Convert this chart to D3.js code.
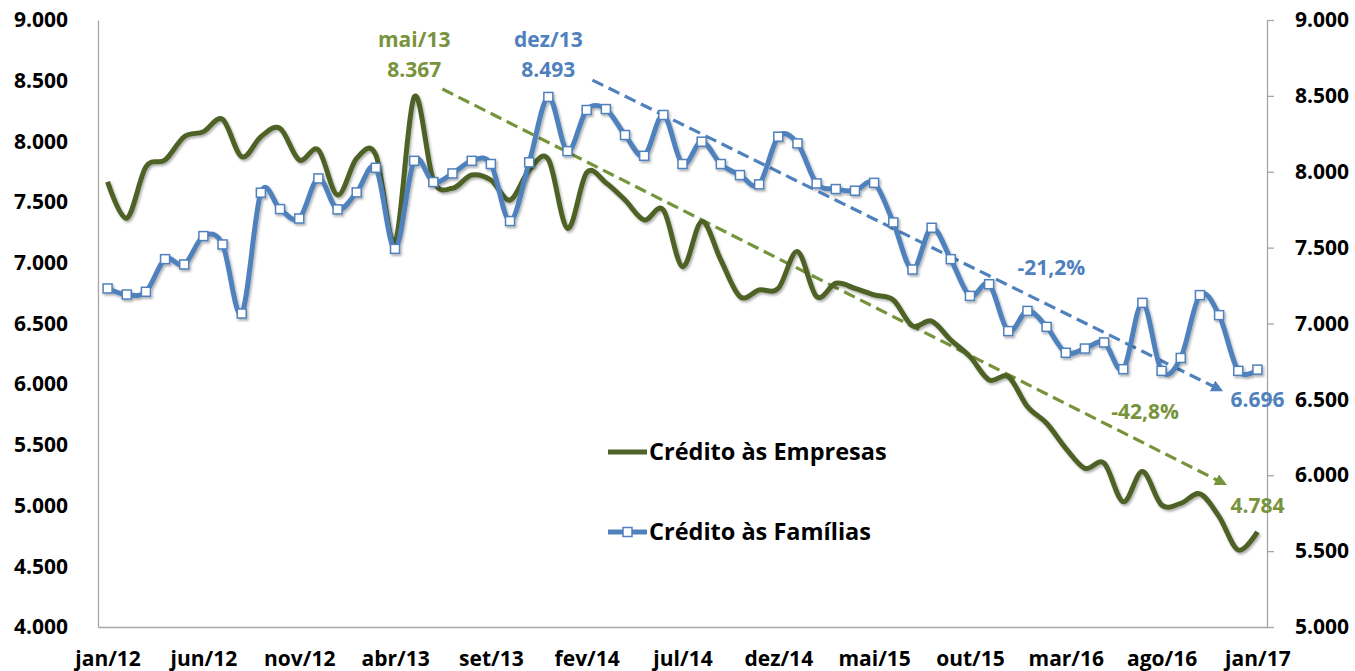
<!DOCTYPE html>
<html>
<head>
<meta charset="utf-8">
<script src="https://cdn.jsdelivr.net/npm/d3@7"></script>
<style>
body{margin:0;background:#fff;}
svg{display:block;font-family:"Open Sans",sans-serif;font-weight:700;}
</style>
</head>
<body>
<script>
// categorias (meses jan/12 .. jan/17)
var meses = ["jan/12","fev/12","mar/12","abr/12","mai/12","jun/12","jul/12","ago/12","set/12","out/12","nov/12","dez/12",
	"jan/13","fev/13","mar/13","abr/13","mai/13","jun/13","jul/13","ago/13","set/13","out/13","nov/13","dez/13",
	"jan/14","fev/14","mar/14","abr/14","mai/14","jun/14","jul/14","ago/14","set/14","out/14","nov/14","dez/14",
	"jan/15","fev/15","mar/15","abr/15","mai/15","jun/15","jul/15","ago/15","set/15","out/15","nov/15","dez/15",
	"jan/16","fev/16","mar/16","abr/16","mai/16","jun/16","jul/16","ago/16","set/16","out/16","nov/16","dez/16",
	"jan/17"];

// Crédito às Empresas (eixo esquerdo)
var empresas = [7668,7367,7790,7847,8039,8080,8182,7874,8039,8108,7847,7929,
	7559,7861,7888,7170,8367,7682,7614,7723,7682,7517,7764,7852,
	7284,7742,7660,7517,7353,7435,6968,7339,7023,6721,6776,6790,
	7092,6721,6831,6790,6735,6694,6480,6520,6364,6227,6035,6062,
	5815,5678,5472,5307,5349,5032,5280,5005,5019,5096,4909,4634,
	4784];

// Crédito às Famílias (eixo direito)
var familias = [7231,7191,7209,7424,7389,7576,7521,7066,7862,7754,7692,7956,
	7752,7864,8026,7492,8072,7932,7989,8072,8051,7675,8062,8493,
	8136,8407,8413,8242,8105,8374,8051,8198,8051,7978,7917,8231,
	8187,7923,7886,7875,7927,7666,7356,7631,7424,7182,7259,6950,
	7083,6978,6807,6835,6875,6699,7136,6688,6773,7187,7055,6688,
	6696];

var ticksEsq = [4000,4500,5000,5500,6000,6500,7000,7500,8000,8500,9000];
var ticksDir = [5000,5500,6000,6500,7000,7500,8000,8500,9000];

// tendências: [indice do mês, valor] inicio e fim
var tendEmpresas = [[17.47,8432],[58.3,5178]];
var tendFamilias = [[25.3,8604],[58.1,6561]];

var nomes = ["Crédito às Empresas","Crédito às Famílias"];

var W = 1355, H = 671;
var esq = 98, dir = 1267, topo = 20, base = 627;
var verde = "#4F6228", verdeClaro = "#77933C", azul = "#4F81BD";

var br = d3.formatLocale({decimal:",",thousands:".",grouping:[3],currency:["",""]});
var fmt = br.format(",d");

var svg = d3.select("body").append("svg")
	.attr("width",W)
	.attr("height",H);

var defs = svg.append("defs");
defs.append("filter").attr("id","sombra")
	.attr("x","-10%").attr("y","-10%").attr("width","120%").attr("height","120%")
	.append("feDropShadow")
	.attr("dx",1.5).attr("dy",2).attr("stdDeviation",1.3)
	.attr("flood-color","#000").attr("flood-opacity",0.3);

[["setaVerde",verdeClaro],["setaAzul",azul]].forEach(function(s){
	defs.append("marker").attr("id",s[0])
		.attr("viewBox","0 0 10 10").attr("refX",8).attr("refY",5)
		.attr("markerWidth",12).attr("markerHeight",12)
		.attr("markerUnits","userSpaceOnUse")
		.attr("orient","auto")
		.append("path").attr("d","M0,0L10,5L0,10z").attr("fill",s[1]);
});

var x = d3.scalePoint().domain(meses).range([esq,dir]).padding(0.5);
var xi = d3.scaleLinear().domain([0,meses.length-1]).range([x(meses[0]),x(meses[meses.length-1])]);
var yE = d3.scaleLinear().domain([4000,9000]).range([base,topo]);
var yF = d3.scaleLinear().domain([5000,9000]).range([base,topo]);

// eixos
var gx = svg.append("g").attr("transform","translate(0,"+base+")")
	.call(d3.axisBottom(x)
		.tickValues(meses.filter(function(d,i){return i%5==0;}))
		.tickSize(0).tickSizeOuter(0).tickPadding(24));
var gl = svg.append("g").attr("transform","translate("+esq+",0)")
	.call(d3.axisLeft(yE).tickValues(ticksEsq).tickFormat(fmt)
		.tickSize(0).tickSizeOuter(0).tickPadding(30));
var gr = svg.append("g").attr("transform","translate("+dir+",0)")
	.call(d3.axisRight(yF).tickValues(ticksDir).tickFormat(fmt)
		.tickSize(7).tickSizeOuter(0).tickPadding(21));

[gx,gl,gr].forEach(function(g){
	g.selectAll("path.domain").attr("stroke","#A6A6A6").attr("stroke-width",1.3);
	g.selectAll(".tick line").attr("stroke","#A6A6A6").attr("stroke-width",1.3);
	g.selectAll("text").attr("fill","#000").attr("font-size",21)
		.attr("font-family","'Open Sans',sans-serif").attr("font-weight",700);
});

// linhas de tendência
var tendencia = function(pts, yS, cor, seta){
	svg.append("line")
		.attr("x1",xi(pts[0][0])).attr("y1",yS(pts[0][1]))
		.attr("x2",xi(pts[1][0])).attr("y2",yS(pts[1][1]))
		.attr("stroke",cor).attr("stroke-width",3.2)
		.attr("stroke-dasharray","12,6")
		.attr("marker-end","url(#"+seta+")");
};
tendencia(tendEmpresas, yE, verdeClaro, "setaVerde");
tendencia(tendFamilias, yF, azul, "setaAzul");

// séries
var curva = d3.curveCardinal.tension(0);
var linhaE = d3.line().x(function(d,i){return xi(i);}).y(function(d){return yE(d);}).curve(curva);
var linhaF = d3.line().x(function(d,i){return xi(i);}).y(function(d){return yF(d);}).curve(curva);

svg.append("path").datum(empresas)
	.attr("d",linhaE).attr("fill","none")
	.attr("stroke",verde).attr("stroke-width",5)
	.attr("stroke-linejoin","round")
	.attr("filter","url(#sombra)");

var gF = svg.append("g").attr("filter","url(#sombra)");
gF.append("path").datum(familias)
	.attr("d",linhaF).attr("fill","none")
	.attr("stroke",azul).attr("stroke-width",5)
	.attr("stroke-linejoin","round");
gF.selectAll("rect.marca").data(familias).enter().append("rect")
	.attr("class","marca")
	.attr("x",function(d,i){return xi(i)-4.5;})
	.attr("y",function(d){return yF(d)-4.5;})
	.attr("width",9).attr("height",9)
	.attr("fill","#fff").attr("stroke",azul).attr("stroke-width",1.5);

// rótulos
var rotulo = function(txt, px, py, cor, anchor){
	svg.append("text").text(txt)
		.attr("x",px).attr("y",py).attr("dy","0.35em")
		.attr("text-anchor",anchor || "middle")
		.attr("fill",cor).attr("font-size",21);
};
var iE = empresas.indexOf(d3.max(empresas.slice(0,30)));
var iF = familias.indexOf(d3.max(familias));
var iU = meses.length-1;
rotulo(meses[iE], xi(iE), yE(empresas[iE])-57, verdeClaro);
rotulo(fmt(empresas[iE]), xi(iE), yE(empresas[iE])-27, verdeClaro);
rotulo(meses[iF], xi(iF), yF(familias[iF])-57, azul);
rotulo(fmt(familias[iF]), xi(iF), yF(familias[iF])-27, azul);
rotulo(fmt(familias[iU]), xi(iU), yF(familias[iU])+30, azul);
rotulo(fmt(empresas[iU]), xi(iU), yE(empresas[iU])-26, verdeClaro);
rotulo("-21,2%", xi(tendFamilias[0][0]+(tendFamilias[1][0]-tendFamilias[0][0])*0.73), yF(tendFamilias[0][1]+(tendFamilias[1][1]-tendFamilias[0][1])*0.73)-39, azul);
rotulo("-42,8%", xi(tendEmpresas[0][0]+(tendEmpresas[1][0]-tendEmpresas[0][0])*0.898), yE(tendEmpresas[0][1]+(tendEmpresas[1][1]-tendEmpresas[0][1])*0.898)-32, verdeClaro);

// legenda
var leg = svg.append("g").attr("transform","translate(608,452)");
var item = leg.selectAll("g").data(nomes).enter().append("g")
	.attr("transform",function(d,i){return "translate(0,"+(i*80)+")";});
item.append("line").attr("x1",0).attr("x2",39).attr("y1",0).attr("y2",0)
	.attr("stroke",function(d,i){return i==0?verde:azul;}).attr("stroke-width",5);
item.filter(function(d,i){return i==1;}).append("rect")
	.attr("x",15).attr("y",-4.5).attr("width",9).attr("height",9)
	.attr("fill","#fff").attr("stroke",azul).attr("stroke-width",1.5);
item.append("text").text(function(d){return d;})
	.attr("x",41).attr("dy","0.35em").attr("font-size",23.5).attr("fill","#000");
</script>
</body>
</html>
